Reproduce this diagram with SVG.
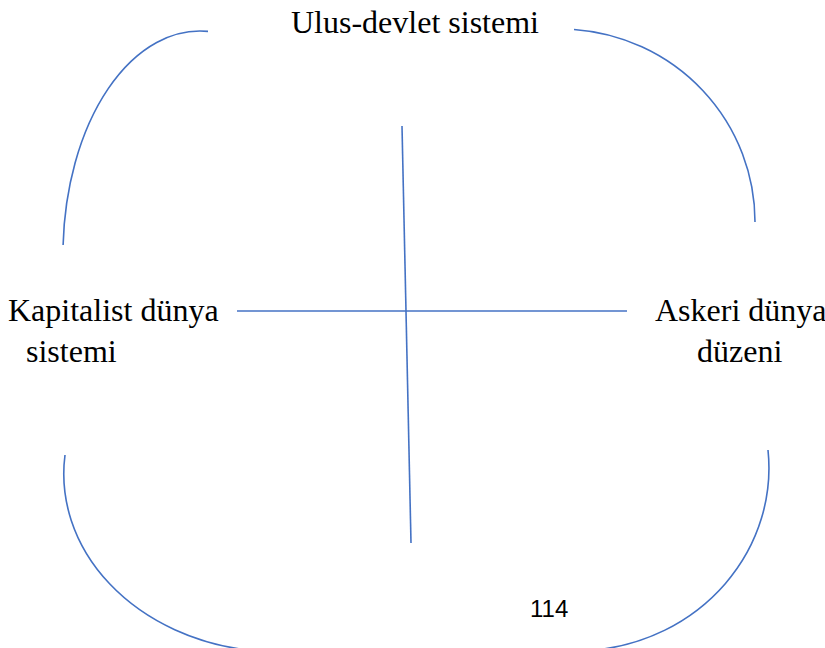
<svg xmlns="http://www.w3.org/2000/svg" width="825" height="648" viewBox="0 0 825 648">
<style>
.arc{fill:none;stroke:#4472C4;stroke-width:1.6}
.ln{fill:none;stroke:#4472C4;stroke-width:1.6}
.lbl{font-family:"Liberation Serif","Times New Roman",serif;font-size:32px;fill:#000}
.pg{font-family:"Liberation Sans",Arial,sans-serif;font-size:24px;fill:#000}
</style>
<rect width="825" height="648" fill="#fff"/>
<g id="arcs">
<path class="arc" d="M208,31.4 A137,224 0 0 0 63.1,245"/>
<path class="arc" d="M574,29.5 A195,193 0 0 1 755,222"/>
<path class="arc" d="M65,455 A215,178 0 0 0 250,650.3"/>
<path class="arc" d="M768,450 A194,183 0 0 1 595,650"/>
</g>
<g id="connectors">
<line class="ln" x1="237" y1="311" x2="627" y2="311"/>
<line class="ln" x1="402" y1="126" x2="411" y2="543"/>
</g>
<g id="node-ulus"><text class="lbl" x="291" y="33">Ulus-devlet sistemi</text></g>
<g id="node-kapitalist"><text class="lbl" x="8" y="321">Kapitalist dünya</text><text class="lbl" x="26" y="362">sistemi</text></g>
<g id="node-askeri"><text class="lbl" x="655" y="321">Askeri dünya</text><text class="lbl" x="697" y="362">düzeni</text></g>
<g id="page"><text class="pg" x="530" y="617">114</text></g>
</svg>
